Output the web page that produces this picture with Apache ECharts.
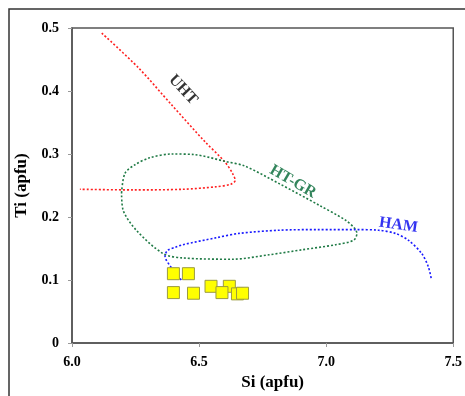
<!DOCTYPE html>
<html>
<head>
<meta charset="utf-8">
<script src="https://cdn.jsdelivr.net/npm/echarts@6/dist/echarts.min.js"></script>
<style>
  html, body { margin: 0; padding: 0; background: #fff; }
  #chart { width: 465px; height: 396px; }
</style>
</head>
<body>
<div id="chart"></div>
<script>
// field boundaries, [Si, Ti]
const uhtCurve = [
  [6.117, 0.492], [6.261, 0.437], [6.392, 0.378], [6.522, 0.320], [6.600, 0.288],
  [6.632, 0.269], [6.642, 0.258], [6.625, 0.252], [6.567, 0.248], [6.436, 0.244],
  [6.240, 0.243], [6.031, 0.244]
]
const htgrCurve = [
  [6.195, 0.238], [6.208, 0.269], [6.248, 0.283], [6.305, 0.294], [6.392, 0.300],
  [6.482, 0.299], [6.606, 0.288], [6.679, 0.281], [6.815, 0.253], [6.971, 0.219],
  [7.076, 0.195], [7.112, 0.182], [7.121, 0.174], [7.108, 0.163], [7.037, 0.156],
  [6.906, 0.148], [6.775, 0.140], [6.632, 0.133], [6.436, 0.135], [6.358, 0.142],
  [6.253, 0.179], [6.201, 0.211], [6.195, 0.238]
]
const hamCurve = [
  [6.430, 0.100], [6.392, 0.119], [6.366, 0.138], [6.376, 0.147], [6.407, 0.152],
  [6.436, 0.156], [6.567, 0.167], [6.658, 0.174], [6.815, 0.179], [6.971, 0.180],
  [7.115, 0.180], [7.206, 0.179], [7.272, 0.174], [7.324, 0.163], [7.376, 0.142],
  [7.402, 0.121], [7.413, 0.103]
]
// analysed amphiboles
const samples = [
  [6.399, 0.110], [6.458, 0.110], [6.399, 0.080], [6.478, 0.079], [6.547, 0.090],
  [6.619, 0.090], [6.590, 0.080], [6.651, 0.078], [6.671, 0.079]
]
// field names: [Si, Ti, text, rotate, colour]
const fieldLabels = [
  [6.437, 0.402, 'UHT', -47, '#000000'],
  [6.869, 0.256, 'HT-GR', -30, '#006633'],
  [7.284, 0.187, 'HAM', -8, '#0000ee']
]
const xTicks = [6.0, 6.5, 7.0, 7.5]
const yTicks = [0, 0.1, 0.2, 0.3, 0.4, 0.5]

const serif = 'Liberation Serif, Times New Roman, serif'
const chart = echarts.init(document.getElementById('chart'))

function boundary(name, data, color) {
  return {
    name: name,
    type: 'line',
    data: data,
    smooth: 0.3,
    showSymbol: false,
    silent: true,
    lineStyle: { color: color, width: 1.6, type: [2, 2] },
    z: 2
  }
}

const option = {
  animation: false,
  grid: {
    left: 72, top: 28, right: 10, bottom: 53,
    show: true, borderColor: '#555', borderWidth: 1.5
  },
  xAxis: {
    type: 'value',
    min: xTicks[0], max: xTicks[xTicks.length - 1], interval: 0.5,
    name: 'Si (apfu)',
    nameLocation: 'middle',
    nameGap: 28,
    nameTextStyle: { fontFamily: serif, fontWeight: 'bold', fontSize: 17, color: '#000', padding: [0, 0, 0, 20] },
    axisLine: { lineStyle: { color: '#555', width: 1.5 } },
    axisTick: { length: 4, lineStyle: { color: '#999' } },
    splitLine: { show: false },
    axisLabel: {
      margin: 12,
      fontFamily: serif, fontWeight: 'bold', fontSize: 14, color: '#000',
      formatter: v => v.toFixed(1)
    }
  },
  yAxis: {
    type: 'value',
    min: yTicks[0], max: yTicks[yTicks.length - 1], interval: 0.1,
    name: 'Ti (apfu)',
    nameLocation: 'middle',
    nameGap: 40,
    nameTextStyle: { fontFamily: serif, fontWeight: 'bold', fontSize: 17, color: '#000', padding: [0, 0, 0, 0] },
    axisLine: { lineStyle: { color: '#555', width: 1.5 } },
    axisTick: { length: 4, lineStyle: { color: '#999' } },
    splitLine: { show: false },
    axisLabel: {
      margin: 13,
      fontFamily: serif, fontWeight: 'bold', fontSize: 14, color: '#000',
      formatter: v => v === 0 ? '0' : v.toFixed(1)
    }
  },
  graphic: [{
    type: 'rect',
    shape: { x: 9, y: 9, width: 470, height: 400 },
    style: { fill: 'none', stroke: '#333', lineWidth: 1.5 },
    silent: true
  }],
  series: [
    boundary('UHT', uhtCurve, '#ff2020'),
    boundary('HT-GR', htgrCurve, '#1f7a45'),
    boundary('HAM', hamCurve, '#1a1aff'),
    {
      name: 'samples',
      type: 'scatter',
      data: samples,
      symbol: 'rect',
      symbolSize: 12,
      itemStyle: { color: '#ffff00', borderColor: '#9a9a40', borderWidth: 1, opacity: 1 },
      z: 3
    },
    {
      name: 'labels',
      type: 'scatter',
      symbolSize: 0,
      silent: true,
      data: fieldLabels.map(d => ({
        value: [d[0], d[1]],
        label: {
          show: true,
          position: 'inside',
          formatter: d[2],
          rotate: d[3],
          color: d[4],
          fontFamily: serif,
          fontWeight: 'bold',
          fontSize: 16
        }
      })),
      z: 4
    }
  ]
}

chart.setOption(option)
</script>
</body>
</html>
